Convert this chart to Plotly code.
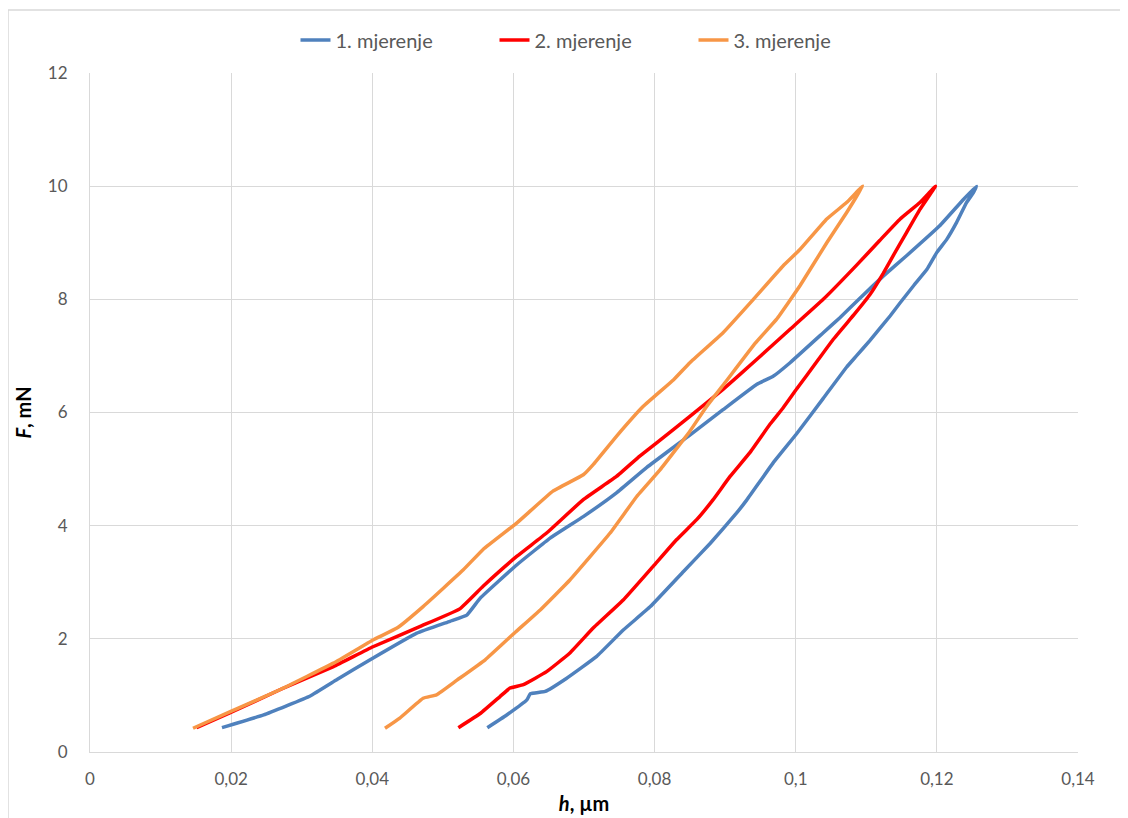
import plotly.graph_objects as go

# 1. mjerenje (loading then unloading)
h1 = [0.0187, 0.0246, 0.0312, 0.0350, 0.0397, 0.0463, 0.0510, 0.0534, 0.0553, 0.0605, 0.0652,
      0.0699, 0.0746, 0.0789, 0.0850, 0.0897, 0.0945, 0.0968, 0.0992, 0.1039, 0.1063, 0.1091,
      0.1124, 0.1157, 0.1204, 0.1238, 0.1256,
      0.1252, 0.1242, 0.1228, 0.1214, 0.1200, 0.1186, 0.1167, 0.1148, 0.1134, 0.1105, 0.1086,
      0.1072, 0.1039, 0.1001, 0.0968, 0.0931, 0.0916, 0.0879, 0.0841, 0.0794, 0.0756, 0.0718,
      0.0675, 0.0645, 0.0624, 0.0619, 0.0590, 0.0563]
F1 = [0.43, 0.655, 0.99, 1.28, 1.63, 2.10, 2.31, 2.42, 2.72, 3.31, 3.78,
      4.16, 4.58, 5.03, 5.60, 6.05, 6.50, 6.64, 6.88, 7.41, 7.68, 8.02,
      8.41, 8.77, 9.30, 9.77, 10.0,
      9.89, 9.71, 9.36, 9.06, 8.83, 8.53, 8.24, 7.94, 7.71, 7.27, 7.00,
      6.80, 6.25, 5.62, 5.11, 4.46, 4.22, 3.69, 3.19, 2.57, 2.16, 1.69,
      1.30, 1.07, 1.03, 0.92, 0.65, 0.43]

# 2. mjerenje
h2 = [0.0151, 0.0198, 0.0269, 0.0345, 0.0401, 0.0468, 0.0524, 0.0557, 0.0605, 0.0647, 0.0699,
      0.0746, 0.0779, 0.0827, 0.0850, 0.0897, 0.0945, 0.0992, 0.1039, 0.1086, 0.1119, 0.1148,
      0.1176, 0.1198,
      0.1176, 0.1157, 0.1138, 0.1124, 0.1105, 0.1084, 0.1053, 0.1030, 0.1001, 0.0982, 0.0964,
      0.0935, 0.0907, 0.0883, 0.0860, 0.0831, 0.0798, 0.0756, 0.0713, 0.0680, 0.0647, 0.0614,
      0.0595, 0.0581, 0.0553, 0.0522]
F2 = [0.43, 0.69, 1.10, 1.51, 1.86, 2.22, 2.53, 2.93, 3.46, 3.87, 4.46,
      4.87, 5.23, 5.70, 5.93, 6.41, 6.94, 7.47, 8.00, 8.60, 9.04, 9.42,
      9.71, 10.0,
      9.59, 9.18, 8.77, 8.46, 8.08, 7.75, 7.29, 6.90, 6.41, 6.08, 5.80,
      5.29, 4.87, 4.46, 4.11, 3.75, 3.28, 2.69, 2.19, 1.75, 1.42, 1.19,
      1.13, 0.98, 0.68, 0.43]

# 3. mjerenje
h3 = [0.0146, 0.0198, 0.0269, 0.0345, 0.0401, 0.0435, 0.0472, 0.0529, 0.0557, 0.0605, 0.0656,
      0.0699, 0.0713, 0.0746, 0.0784, 0.0827, 0.0850, 0.0897, 0.0940, 0.0982, 0.1006, 0.1044,
      0.1072, 0.1095,
      0.1072, 0.1044, 0.1006, 0.0973, 0.0943, 0.0900, 0.0874, 0.0850, 0.0808, 0.0775, 0.0737,
      0.0680, 0.0638, 0.0603, 0.0560, 0.0520, 0.0491, 0.0472, 0.0439, 0.0418]
F3 = [0.42, 0.71, 1.10, 1.57, 1.98, 2.19, 2.57, 3.22, 3.58, 4.05, 4.61,
      4.90, 5.08, 5.58, 6.11, 6.58, 6.88, 7.41, 8.00, 8.59, 8.88, 9.42,
      9.71, 10.0,
      9.53, 9.00, 8.24, 7.65, 7.23, 6.53, 6.11, 5.67, 4.99, 4.52, 3.87,
      3.04, 2.51, 2.12, 1.63, 1.27, 1.01, 0.95, 0.60, 0.42]

names = ["1. mjerenje", "2. mjerenje", "3. mjerenje"]
colors = ["#4f81bd", "#ff0000", "#f79646"]
x_ticks = [0, 0.02, 0.04, 0.06, 0.08, 0.1, 0.12, 0.14]
y_ticks = [0, 2, 4, 6, 8, 10, 12]

FONT = "Lato, 'Open Sans', sans-serif"

# page body has an 8px margin; plot area target: x 90..1078, y 73..752
L, T, PW, PH = 82, 65, 988, 679

fig = go.Figure()
for hx, fy, nm, col in zip([h1, h2, h3], [F1, F2, F3], names, colors):
    fig.add_trace(go.Scatter(x=hx, y=fy, mode="lines", name=nm,
                             line=dict(color=col, width=3.5, shape="spline", smoothing=0.3)))

fig.update_layout(
    width=1128, height=818,
    margin=dict(l=L, r=1128 - L - PW, t=T, b=818 - T - PH),
    paper_bgcolor="white", plot_bgcolor="white",
    separators=", ",
    font=dict(family=FONT, size=17, color="#595959"),
    showlegend=True,
    legend=dict(orientation="h", x=0.5 + 10 / PW, xanchor="center", y=(752 - 40) / PH,
                yanchor="middle",
                font=dict(family=FONT, size=20, color="#595959"),
                entrywidth=154, entrywidthmode="pixels",
                tracegroupgap=0, bgcolor="rgba(0,0,0,0)"),
    xaxis=dict(range=[0, 0.14], tickvals=x_ticks, showgrid=True, gridcolor="#d9d9d9",
               gridwidth=1, zeroline=False, showline=True, linecolor="#d9d9d9", linewidth=1,
               ticks="", ticklen=0, ticklabelstandoff=12,
               tickfont=dict(size=17, color="#595959"),
               title=dict(text="<b><i>h</i>, µm</b>", font=dict(size=20, color="#000000"),
                          standoff=8)),
    yaxis=dict(range=[0, 12], tickvals=y_ticks, showgrid=True, gridcolor="#d9d9d9",
               gridwidth=1, zeroline=False, showline=True, linecolor="#d9d9d9", linewidth=1,
               ticks="", ticklen=0, ticklabelstandoff=18,
               tickfont=dict(size=17, color="#595959"),
               title=dict(text="<b><i>F</i>, mN</b>", font=dict(size=20, color="#000000"),
                          standoff=10)),
)

fig.add_shape(type="rect", xref="paper", yref="paper",
              x0=(8 - 90) / PW, x1=(1126 - 90) / PW,
              y0=(752 - 830) / PH, y1=(752 - 10) / PH,
              line=dict(color="#d9d9d9", width=1.5), fillcolor="rgba(0,0,0,0)", layer="below")

fig.write_html("out.html")
